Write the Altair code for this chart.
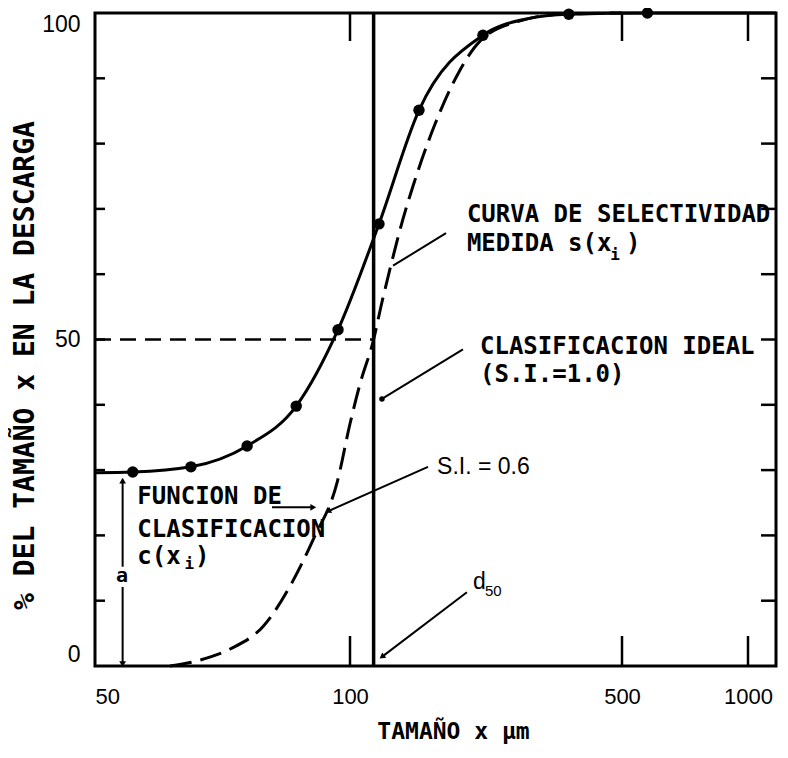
import altair as alt
import pandas as pd

# ---------------- data ----------------
# measured selectivity points s(x_i)
meas_x = [55.4, 64.9, 75.6, 86.4, 96.8, 118.7, 150.4, 219.6, 365, 575]
meas_y = [29.7, 30.5, 33.7, 39.8, 51.5, 67.7, 85.1, 96.6, 99.8, 100]

# measured selectivity curve (solid)
s_x = [50, 55.4, 64.9, 75.6, 86.4, 96.8, 118.7, 150.4, 219.6, 285, 365, 575, 1166]
s_y = [29.6, 29.7, 30.5, 33.7, 39.8, 51.5, 67.7, 85.1, 96.6, 99.1, 99.8, 100, 100]

# corrected classification function c(x_i), S.I. = 0.6 (dashed)
c_x = [61.3, 66.5, 72.2, 79.0, 85.6, 90.5, 96.6, 100, 106.1, 115, 120.8, 126.7,
       136.9, 145.2, 165.4, 189.5, 215.8, 273.4, 346.5, 500]
c_y = [0, 0.9, 2.6, 6.1, 13.0, 19.4, 28.2, 37.1, 43.2, 50, 55.7, 60.8,
       68.5, 73.5, 83.0, 90.7, 95.7, 98.8, 99.8, 100]

d50 = 115          # cut size (ideal classification)

x_break = [50, 100, 500, 1000, 1166]      # break points of the printed size scale
x_labels = [50, 100, 500, 1000]
y_labels = [0, 50, 100]
y_minor = [10, 20, 30, 40, 50, 60, 70, 80, 90]
x_major = [100, 500, 1000]

# annotation texts
mono_text = ["CURVA DE SELECTIVIDAD", "MEDIDA s(x", ")", "CLASIFICACION IDEAL",
             "(S.I.=1.0)", "FUNCION DE", "CLASIFICACION", "c(x", ")"]
mono_x = [199.7, 199.7, 511, 215.8, 215.8, 56.1, 56.1, 56.1, 65.6]
mono_y = [68.0, 63.55, 63.55, 47.8, 43.5, 24.8, 19.75, 15.6, 15.6]

sub_text = ["i", "i"]
sub_x = [480, 64.6]
sub_y = [62.2, 14.8]

sans_text = ["S.I. = 0.6", "d"]
sans_x = [167.4, 207]
sans_y = [29.4, 11.8]

d_sub_text = ["50"]
d_sub_x = [222.2]
d_sub_y = [10.7]

# leader lines
ptr_x1 = [176.5, 195.1, 158.6, 199.7, 80.9]
ptr_y1 = [66.3, 48.5, 30.5, 11.3, 24.3]
ptr_x2 = [129.0, 120.8, 94.2, 120.8, 90.5]
ptr_y2 = [61.3, 40.9, 23.7, 1.4, 24.3]

# double arrow for "a"
a_x = 53.9
a_seg_y1 = [28.4, 12.1]
a_seg_y2 = [15.2, 0.3]

# ---------------- chart ----------------
W, H = 681, 653
FONT_MONO = "DejaVu Sans Mono"
FONT_SANS = "Liberation Sans"

xs = alt.Scale(type="log", domain=x_break, range=[0, 255, 527, 653, W], nice=False)
ys = alt.Scale(domain=[0, 100], nice=False, zero=False)

x_axis = alt.Axis(values=x_labels, format="d", tickSize=0, domain=False, grid=False,
                  labelFont=FONT_SANS, labelFontSize=22, labelColor="black",
                  labelPadding=20, title="TAMAÑO x  µm", titleFont=FONT_MONO,
                  titleFontSize=23, titleFontWeight="bold", titleColor="black",
                  titleX=358, titleY=72, titleBaseline="alphabetic", titleAlign="center")
y_axis = alt.Axis(values=y_labels, format="d", tickSize=0, domain=False, grid=False,
                  labelFont=FONT_SANS, labelFontSize=23, labelColor="black",
                  labelPadding=15, labelFlush=True,
                  title="% DEL TAMAÑO x EN LA DESCARGA", titleFont=FONT_MONO,
                  titleFontSize=28, titleFontWeight="bold", titleColor="black",
                  titleX=-62, titleY=352, titleBaseline="alphabetic", titleAlign="center",
                  titleAngle=270)


def X(f="x"):
    return alt.X(f"{f}:Q", scale=xs, axis=x_axis)


def Y(f="y"):
    return alt.Y(f"{f}:Q", scale=ys, axis=y_axis)


df_meas = pd.DataFrame({"x": meas_x, "y": meas_y})
df_s = pd.DataFrame({"x": s_x, "y": s_y})
df_c = pd.DataFrame({"x": c_x, "y": c_y})

hline = alt.Chart(pd.DataFrame({"x": [50], "x2": [d50], "y": [50]})).mark_rule(
    color="black", strokeWidth=2.5, strokeDash=[16, 9]).encode(x=X(), x2="x2:Q", y=Y())

vline = alt.Chart(pd.DataFrame({"x": [d50], "y": [0], "y2": [100]})).mark_rule(
    color="black", strokeWidth=3.5).encode(x=X(), y=Y(), y2="y2:Q")

c_line = alt.Chart(df_c).mark_line(color="black", strokeWidth=3, strokeDash=[22, 9],
                                   interpolate="monotone").encode(x=X(), y=Y())
s_line = alt.Chart(df_s).mark_line(color="black", strokeWidth=3,
                                   interpolate="monotone").encode(x=X(), y=Y())
pts = alt.Chart(df_meas).mark_circle(color="black", size=130, opacity=1).encode(x=X(), y=Y())

df_ym = pd.DataFrame({"y": y_minor})
df_xm = pd.DataFrame({"x": x_major})
tick_l = alt.Chart(df_ym).mark_rule(color="black", strokeWidth=2.5).encode(
    y=Y(), x=alt.value(0), x2=alt.value(10))
tick_r = alt.Chart(df_ym).mark_rule(color="black", strokeWidth=2.5).encode(
    y=Y(), x=alt.value(W - 15), x2=alt.value(W))
tick_b = alt.Chart(df_xm).mark_rule(color="black", strokeWidth=2.5).encode(
    x=X(), y=alt.value(H), y2=alt.value(H - 30))
tick_t = alt.Chart(df_xm).mark_rule(color="black", strokeWidth=2.5).encode(
    x=X(), y=alt.value(0), y2=alt.value(28))

df_ptr = pd.DataFrame({"x": ptr_x1, "y": ptr_y1, "x2": ptr_x2, "y2": ptr_y2})
ptrs = alt.Chart(df_ptr).mark_rule(color="black", strokeWidth=2).encode(
    x=X(), y=Y(), x2="x2:Q", y2="y2:Q")

df_a = pd.DataFrame({"x": [a_x, a_x], "y": a_seg_y1, "y2": a_seg_y2})
a_lines = alt.Chart(df_a).mark_rule(color="black", strokeWidth=2).encode(
    x=X(), y=Y(), y2="y2:Q")


def head(x, y, shape, angle, size=45):
    return alt.Chart(pd.DataFrame({"x": [x], "y": [y]})).mark_point(
        shape=shape, angle=angle, filled=True, color="black", opacity=1, size=size
    ).encode(x=X(), y=Y())


heads = [
    head(a_x, a_seg_y1[0], "triangle-up", 0),
    head(a_x, a_seg_y2[1], "triangle-down", 0),
    head(ptr_x2[4], ptr_y2[4], "triangle-right", 0),
    head(ptr_x2[2], ptr_y2[2], "triangle-up", 246),
    head(ptr_x2[3], ptr_y2[3], "triangle-up", 233),
    head(ptr_x2[1], ptr_y2[1], "circle", 0, 30),
]

df_mono = pd.DataFrame({"x": mono_x, "y": mono_y, "t": mono_text})
t_mono = alt.Chart(df_mono).mark_text(font=FONT_MONO, fontSize=24, fontWeight="bold",
                                      align="left", baseline="alphabetic",
                                      color="black").encode(x=X(), y=Y(), text="t:N")
df_sub = pd.DataFrame({"x": sub_x, "y": sub_y, "t": sub_text})
t_sub = alt.Chart(df_sub).mark_text(font=FONT_MONO, fontSize=16, fontWeight="bold",
                                    align="center", baseline="alphabetic",
                                    color="black").encode(x=X(), y=Y(), text="t:N")
df_sans = pd.DataFrame({"x": sans_x, "y": sans_y, "t": sans_text})
t_sans = alt.Chart(df_sans).mark_text(font=FONT_SANS, fontSize=23, align="left",
                                      baseline="alphabetic", color="black").encode(
    x=X(), y=Y(), text="t:N")
df_dsub = pd.DataFrame({"x": d_sub_x, "y": d_sub_y, "t": d_sub_text})
t_dsub = alt.Chart(df_dsub).mark_text(font=FONT_SANS, fontSize=15, align="left",
                                      baseline="alphabetic", color="black").encode(
    x=X(), y=Y(), text="t:N")
t_a = alt.Chart(pd.DataFrame({"x": [53.8], "y": [13.8], "t": ["a"]})).mark_text(
    font=FONT_MONO, fontSize=20, fontWeight="bold", align="center", baseline="middle",
    color="black").encode(x=X(), y=Y(), text="t:N")

chart = alt.layer(
    s_line, hline, vline, c_line, pts,
    tick_l, tick_r, tick_b, tick_t, ptrs, a_lines, *heads,
    t_mono, t_sub, t_sans, t_dsub, t_a,
).properties(
    width=W, height=H,
    autosize=alt.AutoSizeParams(type="none"),
    padding={"left": 87, "top": 5, "right": 2, "bottom": 78},
    background="white",
).configure_view(stroke="black", strokeWidth=3)

chart.save("out.html", embed_options={"renderer": "svg", "actions": False})
